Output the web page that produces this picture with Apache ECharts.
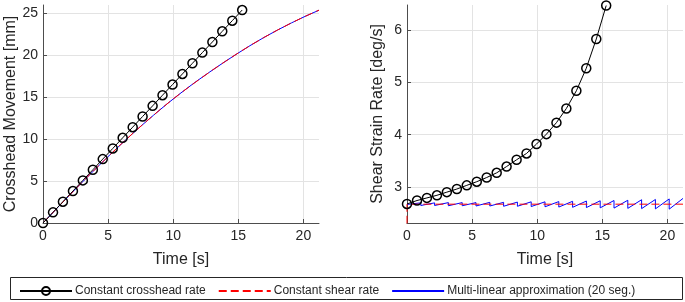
<!DOCTYPE html>
<html>
<head>
<meta charset="utf-8">
<script src="https://cdn.jsdelivr.net/npm/echarts@6/dist/echarts.min.js"></script>
<style>
  html, body { margin: 0; padding: 0; background: #fff; }
  #chart { width: 685px; height: 302px; }
</style>
</head>
<body>
<div id="chart"></div>
<script>
// constant crosshead rate (markers)
const crossT = [0, 0.77, 1.53, 2.3, 3.06, 3.83, 4.59, 5.36, 6.12, 6.89, 7.65, 8.42, 9.18, 9.95, 10.71, 11.48, 12.24, 13.01, 13.77, 14.54, 15.3];
const crossMove = [0, 1.27, 2.54, 3.81, 5.08, 6.35, 7.62, 8.89, 10.16, 11.43, 12.7, 13.97, 15.24, 16.51, 17.78, 19.05, 20.32, 21.59, 22.86, 24.13, 25.4];
const crossRate = [2.675, 2.74, 2.79, 2.84, 2.9, 2.96, 3.03, 3.1, 3.18, 3.27, 3.39, 3.52, 3.64, 3.82, 4.01, 4.23, 4.5, 4.84, 5.27, 5.83, 6.47];

// constant shear rate
const shearT = [0, 1, 2, 3, 4, 5, 6, 7, 8, 9, 10, 11, 12, 13, 14, 15, 16, 17, 18, 19, 20, 21, 21.2];
const shearMove = [0, 1.64, 3.26, 4.85, 6.4, 7.92, 9.4, 10.84, 12.2, 13.53, 14.8, 15.98, 17.12, 18.22, 19.27, 20.28, 21.25, 22.15, 23.0, 23.8, 24.55, 25.25, 25.38];
const shearRateT = [0, 0, 21.2];
const shearRate = [0, 2.67, 2.67];

// multi-linear approximation, 20 segments
const segT = [0, 1.06, 2.12, 3.18, 4.24, 5.3, 6.36, 7.42, 8.48, 9.54, 10.6, 11.66, 12.72, 13.78, 14.84, 15.9, 16.96, 18.02, 19.08, 20.14, 21.2];
const segMove = [0, 1.74, 3.45, 5.13, 6.77, 8.37, 9.92, 11.42, 12.84, 14.22, 15.52, 16.76, 17.92, 19.04, 20.12, 21.15, 22.12, 23.02, 23.86, 24.65, 25.38];
const segRateStart = [2.665, 2.645, 2.645, 2.64, 2.64, 2.635, 2.635, 2.63, 2.63, 2.625, 2.62, 2.615, 2.61, 2.605, 2.6, 2.595, 2.59, 2.585, 2.58, 2.575];
const segRateEnd = [2.695, 2.695, 2.7, 2.7, 2.7, 2.705, 2.705, 2.71, 2.715, 2.715, 2.72, 2.725, 2.73, 2.735, 2.74, 2.745, 2.755, 2.76, 2.77, 2.78];

const names = ["Constant crosshead rate", "Constant shear rate", "Multi-linear approximation (20 seg.)"];

const zip = (a, b) => a.map((v, i) => [v, b[i]]);
const segRatePts = [];
segRateStart.forEach((v, k) => {
	segRatePts.push([segT[k], v]);
	segRatePts.push([segT[k + 1], segRateEnd[k]]);
});

const font = "Liberation Sans, Arial, sans-serif";
const txt = "#262626";

function xAxisCfg(idx) {
	return {
		type: "value", gridIndex: idx, min: 0, max: 21.2, interval: 5,
		name: "Time [s]", nameLocation: "middle", nameGap: 29,
		nameTextStyle: { color: txt, fontSize: 16, fontFamily: font },
		axisLine: { show: true, onZero: false, lineStyle: { color: "#4d4d4d", width: 1 } },
		axisTick: { show: true, inside: true, length: 4, lineStyle: { color: "#4d4d4d" } },
		axisLabel: { color: txt, fontSize: 14, fontFamily: font, margin: 6, showMaxLabel: false },
		splitLine: { show: true, showMinLine: false, showMaxLine: false, lineStyle: { color: "#e3e3e3", width: 1 } }
	};
}

function yAxisCfg(idx, name, min, max, interval, gap) {
	const c = {
		type: "value", gridIndex: idx, min: min, max: max,
		name: name, nameLocation: "middle", nameGap: gap,
		nameTextStyle: { color: txt, fontSize: 16, fontFamily: font },
		axisLine: { show: true, onZero: false, lineStyle: { color: "#4d4d4d", width: 1 } },
		axisTick: { show: true, inside: true, length: 4, lineStyle: { color: "#4d4d4d" } },
		axisLabel: { color: txt, fontSize: 14, fontFamily: font, margin: 5, showMinLabel: interval ? true : false, showMaxLabel: false },
		splitLine: { show: true, showMinLine: false, showMaxLine: false, lineStyle: { color: "#e3e3e3", width: 1 } }
	};
	if (interval) c.interval = interval;
	else c.splitNumber = 4;
	return c;
}

const chart = echarts.init(document.getElementById("chart"), null, { renderer: "canvas" });
const option = {
	animation: false,
	backgroundColor: "#fff",
	grid: [
		{ left: 43, right: 366, top: 5, bottom: 79 },
		{ left: 407, right: 2, top: 5, bottom: 79 }
	],
	xAxis: [xAxisCfg(0), xAxisCfg(1)],
	yAxis: [
		yAxisCfg(0, "Crosshead Movement [mm]", 0, 26, 5, 24),
		yAxisCfg(1, "Shear Strain Rate [deg/s]", 2.31, 6.48, null, 21)
	],
	legend: {
		left: 14, top: 280,
		data: [
			{ name: names[0] },
			{ name: names[1], itemStyle: { opacity: 0 } },
			{ name: names[2], itemStyle: { opacity: 0 } }
		],
		itemWidth: 52, itemHeight: 10, itemGap: 12,
		textStyle: { color: txt, fontSize: 12, fontFamily: font, padding: [0, 0, 0, -2] }
	},
	graphic: [{
		type: "rect", shape: { x: 10.5, y: 277.5, width: 672, height: 22 },
		style: { fill: "none", stroke: "#262626", lineWidth: 1 }
	}],
	series: [
		{
			name: names[2], type: "line", xAxisIndex: 0, yAxisIndex: 0,
			data: zip(segT, segMove), showSymbol: false, symbol: "none",
			lineStyle: { color: "#0000ff", width: 1 }, itemStyle: { color: "#0000ff" }
		},
		{
			name: names[1], type: "line", xAxisIndex: 0, yAxisIndex: 0,
			data: zip(shearT, shearMove), showSymbol: false, symbol: "none",
			lineStyle: { color: "#ff0000", width: 1, type: [8, 4] }, itemStyle: { color: "#ff0000" }
		},
		{
			name: names[0], type: "line", xAxisIndex: 0, yAxisIndex: 0,
			data: zip(crossT, crossMove), symbol: "circle", symbolSize: 9,
			lineStyle: { color: "#000", width: 1 },
			itemStyle: { color: "rgba(0,0,0,0)", borderColor: "#000", borderWidth: 1.5 }
		},
		{
			name: names[2], type: "line", xAxisIndex: 1, yAxisIndex: 1,
			data: segRatePts, showSymbol: false, symbol: "none",
			lineStyle: { color: "#0000ff", width: 1 }, itemStyle: { color: "#0000ff" }
		},
		{
			name: names[1], type: "line", xAxisIndex: 1, yAxisIndex: 1,
			data: zip(shearRateT, shearRate), showSymbol: false, symbol: "none", clip: true,
			lineStyle: { color: "#ff0000", width: 1, type: [8, 4] }, itemStyle: { color: "#ff0000" }
		},
		{
			name: names[0], type: "line", xAxisIndex: 1, yAxisIndex: 1,
			data: zip(crossT, crossRate), symbol: "circle", symbolSize: 9,
			lineStyle: { color: "#000", width: 1 },
			itemStyle: { color: "rgba(0,0,0,0)", borderColor: "#000", borderWidth: 1.5 }
		}
	]
};
chart.setOption(option);
</script>
</body>
</html>
